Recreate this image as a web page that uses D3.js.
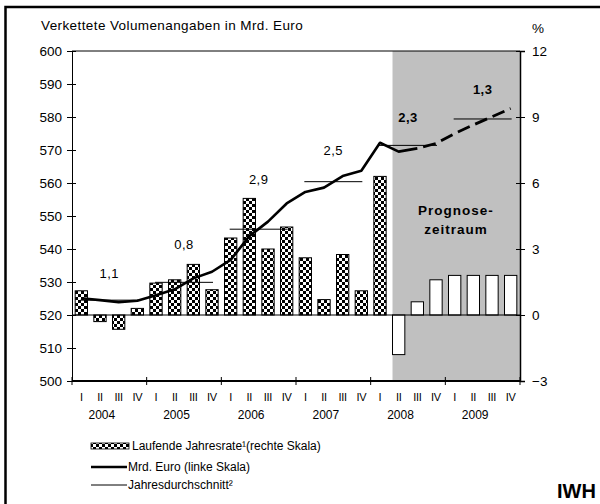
<!DOCTYPE html>
<html>
<head>
<meta charset="utf-8">
<script src="https://cdn.jsdelivr.net/npm/d3@7"></script>
<style>
  body { margin: 0; background: #fff; }
  svg { display: block; font-family: "Liberation Sans", Arial, sans-serif; }
</style>
</head>
<body>
<svg id="chart"></svg>
<script>
// data
var years = [2004, 2005, 2006, 2007, 2008, 2009];
var quarterNames = ['I', 'II', 'III', 'IV'];
// Laufende Jahresrate (%), right scale
var rate = [1.1, -0.3, -0.65, 0.3, 1.45, 1.6, 2.3, 1.15, 3.5, 5.3, 3.0, 4.0,
  2.6, 0.7, 2.75, 1.1, 6.3, -1.8, 0.6, 1.6, 1.8, 1.8, 1.8, 1.8];
// Mrd. Euro, left scale
var volume = [525.1, 524.5, 523.9, 524.3, 526.0, 527.8, 531.1, 533.1, 536.7, 543.9, 548.3, 553.8,
  557.3, 558.6, 562.1, 563.7, 572.2, 569.5, 570.5, 572.0, 575.0, 577.6, 580.1, 582.6];
// Jahresdurchschnitt (Mrd. Euro) and annual growth labels
var yearAvg = [524.5, 529.9, 546.0, 560.4, 571.4, 579.4];
var growthLabels = ['1,1', '0,8', '2,9', '2,5', '2,3', '1,3'];
var forecastYears = [2008, 2009];
var leftTicks = [500, 510, 520, 530, 540, 550, 560, 570, 580, 590, 600];
var rightTicks = [-3, 0, 3, 6, 9, 12];

var width = 600, height = 504;
var plot = { left: 72, right: 520, top: 51, bottom: 381 };

var svg = d3.select('#chart').attr('width', width).attr('height', height);

// outer frame (right and bottom run off the picture)
svg.append('rect').attr('x', 5.5).attr('y', 7).attr('width', 700).attr('height', 600)
  .attr('fill', 'none').attr('stroke', '#000').attr('stroke-width', 2.5);

// build quarter keys
var rows = [];
years.forEach(function (yr, i) {
  quarterNames.forEach(function (q, j) {
    var k = i * 4 + j;
    rows.push({ key: yr + '-' + q, year: yr, q: q, rate: rate[k], vol: volume[k], idx: k });
  });
});

//scales
var x = d3.scaleBand().domain(rows.map(d => d.key)).range([plot.left, plot.right])
  .paddingInner(0.34).paddingOuter(0.17);
var yL = d3.scaleLinear().domain([500, 600]).range([plot.bottom, plot.top]);
var yR = d3.scaleLinear().domain([-3, 12]).range([plot.bottom, plot.top]);
var bw = x.bandwidth();
var cx = d => x(d.key) + bw / 2;

// pattern for the history bars
var defs = svg.append('defs');
var pat = defs.append('pattern').attr('id', 'checker').attr('patternUnits', 'userSpaceOnUse')
  .attr('width', 6).attr('height', 6);
pat.append('rect').attr('width', 6).attr('height', 6).attr('fill', '#fff');
pat.append('rect').attr('width', 3).attr('height', 3).attr('fill', '#000');
pat.append('rect').attr('x', 3).attr('y', 3).attr('width', 3).attr('height', 3).attr('fill', '#000');

// Prognosezeitraum shading, starts at 2008 II
var fcStart = x('2008-II');
svg.append('rect').attr('x', fcStart).attr('y', plot.top)
  .attr('width', plot.right - fcStart).attr('height', plot.bottom - plot.top)
  .attr('fill', '#c0c0c0');
svg.append('text').attr('x', 456).attr('y', 215).attr('text-anchor', 'middle')
  .attr('font-size', 13.5).attr('font-weight', 'bold').attr('letter-spacing', 1)
  .text('Prognose-');
svg.append('text').attr('x', 456).attr('y', 234).attr('text-anchor', 'middle')
  .attr('font-size', 13.5).attr('font-weight', 'bold').attr('letter-spacing', 1)
  .text('zeitraum');

// top border of plot
svg.append('line').attr('x1', plot.left).attr('x2', plot.right).attr('y1', plot.top).attr('y2', plot.top)
  .attr('stroke', '#000').attr('stroke-width', 1);

// bars
var isForecast = d => d.idx > 16;
svg.append('g').selectAll('rect').data(rows).join('rect')
  .attr('x', d => x(d.key))
  .attr('y', d => yR(Math.max(0, d.rate)))
  .attr('width', bw)
  .attr('height', d => Math.abs(yR(d.rate) - yR(0)))
  .attr('fill', d => isForecast(d) ? '#fff' : 'url(#checker)')
  .attr('stroke', '#000').attr('stroke-width', 1);

// zero line
svg.append('line').attr('x1', plot.left).attr('x2', plot.right).attr('y1', yR(0)).attr('y2', yR(0))
  .attr('stroke', '#000').attr('stroke-width', 1);

// annual averages
var avgG = svg.append('g');
years.forEach(function (yr, i) {
  var a = rows[i * 4], b = rows[i * 4 + 3];
  avgG.append('line').attr('x1', cx(a) - 1).attr('x2', cx(b) + 1)
    .attr('y1', yL(yearAvg[i])).attr('y2', yL(yearAvg[i]))
    .attr('stroke', '#000').attr('stroke-width', 1);
});

// growth labels above the averages
var labelLift = [22, 33, 45, 27, 23, 25];
years.forEach(function (yr, i) {
  var fc = forecastYears.indexOf(yr) >= 0;
  svg.append('text')
    .attr('x', (cx(rows[i * 4]) + cx(rows[i * 4 + 3])) / 2)
    .attr('y', yL(yearAvg[i]) - labelLift[i])
    .attr('text-anchor', 'middle').attr('font-size', 13).attr('letter-spacing', 0.5)
    .attr('font-weight', fc ? 'bold' : 'normal')
    .text(growthLabels[i]);
});

// volume line: solid history, dashed forecast from 2008 III
var line = d3.line().x(cx).y(d => yL(d.vol));
svg.append('path').attr('d', line(rows.slice(0, 19)))
  .attr('fill', 'none').attr('stroke', '#000').attr('stroke-width', 2.6)
  .attr('stroke-linejoin', 'round');
svg.append('path').attr('d', line(rows.slice(18)))
  .attr('fill', 'none').attr('stroke', '#000').attr('stroke-width', 2.8)
  .attr('stroke-dasharray', '13,6').attr('stroke-dashoffset', -6);

// axes
var leftAxis = svg.append('g').attr('transform', `translate(${plot.left},0)`)
  .call(d3.axisLeft(yL).tickValues(leftTicks).tickSizeOuter(0).tickSize(5).tickPadding(6));
leftAxis.selectAll('.tick line').attr('x1', 4);
leftAxis.selectAll('text').attr('font-size', 13.5).attr('x', -10);
leftAxis.attr('font-family', null);

var rightAxis = svg.append('g').attr('transform', `translate(${plot.right},0)`)
  .call(d3.axisRight(yR).tickValues(rightTicks).tickSizeOuter(0).tickSize(5).tickPadding(6));
rightAxis.selectAll('.tick line').attr('x1', -4);
rightAxis.selectAll('text').attr('font-size', 13.5).attr('x', 12);
rightAxis.attr('font-family', null);
rightAxis.select('.domain').attr('stroke-width', 1.5);

// bottom axis, ticks at year boundaries
svg.append('line').attr('x1', plot.left).attr('x2', plot.right).attr('y1', plot.bottom).attr('y2', plot.bottom)
  .attr('stroke', '#000').attr('stroke-width', 2);
var yearEdges = years.map((yr, i) => x(rows[i * 4].key) - x.step() * x.paddingInner() / 2)
  .concat([plot.right]);
svg.append('g').selectAll('line').data(yearEdges).join('line')
  .attr('x1', d => d).attr('x2', d => d)
  .attr('y1', plot.bottom - 4).attr('y2', plot.bottom + 4)
  .attr('stroke', '#000').attr('stroke-width', 1);

svg.append('g').selectAll('text').data(rows).join('text')
  .attr('x', cx).attr('y', 400.5).attr('text-anchor', 'middle')
  .attr('font-size', 11).attr('letter-spacing', -0.3)
  .text(d => d.q);
svg.append('g').selectAll('text').data(years).join('text')
  .attr('x', (d, i) => (cx(rows[i * 4]) + cx(rows[i * 4 + 3])) / 2 - 7.5)
  .attr('y', 419).attr('text-anchor', 'middle').attr('font-size', 12)
  .text(d => d);

// titles
svg.append('text').attr('x', 41).attr('y', 30).attr('font-size', 13.5).attr('letter-spacing', 0.4)
  .text('Verkettete Volumenangaben in Mrd. Euro');
svg.append('text').attr('x', 538).attr('y', 33).attr('text-anchor', 'middle').attr('font-size', 13.5)
  .text('%');

// legend
var lg = svg.append('g');
lg.append('rect').attr('x', 91).attr('y', 443).attr('width', 38).attr('height', 6)
  .attr('fill', 'url(#checker)').attr('stroke', '#000').attr('stroke-width', 0.8);
lg.append('text').attr('x', 132).attr('y', 450).attr('font-size', 12)
  .text('Laufende Jahresrate¹(rechte Skala)');
lg.append('line').attr('x1', 91).attr('x2', 127).attr('y1', 467).attr('y2', 467)
  .attr('stroke', '#000').attr('stroke-width', 2.5);
lg.append('text').attr('x', 128).attr('y', 471).attr('font-size', 12)
  .text('Mrd. Euro (linke Skala)');
lg.append('line').attr('x1', 91).attr('x2', 127).attr('y1', 485).attr('y2', 485)
  .attr('stroke', '#000').attr('stroke-width', 1);
lg.append('text').attr('x', 128).attr('y', 489).attr('font-size', 12)
  .text('Jahresdurchschnitt²');

svg.append('text').attr('x', 557).attr('y', 498).attr('font-size', 20).attr('font-weight', 'bold')
  .text('IWH');
</script>
</body>
</html>
